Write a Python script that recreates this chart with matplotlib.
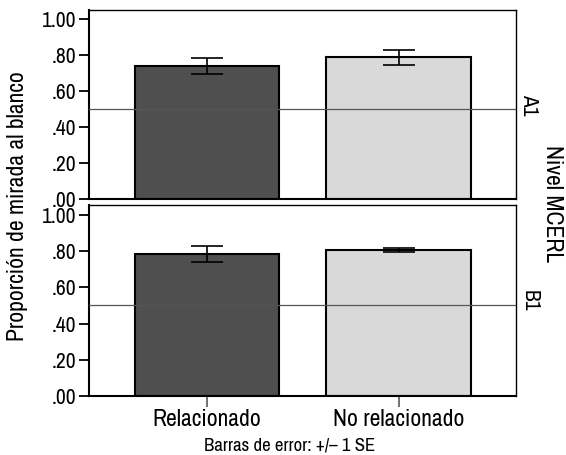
import matplotlib
matplotlib.use("Agg")
import matplotlib.pyplot as plt
from matplotlib import font_manager
import numpy as np

categories = ["Relacionado", "No relacionado"]
levels = ["A1", "B1"]
means = {"A1": [0.74, 0.787], "B1": [0.785, 0.807]}
errors = {"A1": [0.045, 0.040], "B1": [0.045, 0.010]}
bar_colors = ["#4f4f4f", "#d9d9d9"]
yticks = [0.0, 0.2, 0.4, 0.6, 0.8, 1.0]
ytick_labels = [".00", ".20", ".40", ".60", ".80", "1.00"]

installed = {f.name for f in font_manager.fontManager.ttflist}
narrow = [n for n in installed if "Narrow" in n or "Condensed" in n]
family = sorted(narrow)[0] if narrow else "Roboto"
plt.rcParams["font.family"] = [family, "DejaVu Sans"]

W, H = 566, 455
fig = plt.figure(figsize=(W / 100, H / 100), dpi=100)

panels = [(10, 199), (205, 396)]  # top / bottom pixel rows of each panel
x = np.arange(len(categories))
for i, (lvl, (top, bot)) in enumerate(zip(levels, panels)):
    ax = fig.add_axes([89 / W, 1 - bot / H, (516 - 89) / W, (bot - top) / H])
    ax.bar(x, means[lvl], width=0.755, color=bar_colors, edgecolor="black", linewidth=1.5, zorder=2)
    ax.errorbar(x, means[lvl], yerr=errors[lvl], fmt="none", ecolor="black",
                elinewidth=1.2, capsize=11.5, capthick=1.2, zorder=3)
    ax.axhline(0.5, color="#555555", linewidth=0.9, zorder=4)
    ax.set_xlim(-0.615, 1.61)
    ax.set_ylim(0, 1.0 + 0.05 * (1 + 0.1 * i))
    ax.set_yticks(yticks)
    ax.set_yticklabels(ytick_labels, fontsize=15.5)
    ax.tick_params(axis="y", length=7, width=1.3, pad=2)
    for s in ax.spines.values():
        s.set_linewidth(1.0)
    ax.spines["left"].set_linewidth(1.5)
    ax.spines["bottom"].set_linewidth(1.5)
    ax.text(1.008, 0.5, lvl, transform=ax.transAxes, rotation=-90,
            ha="left", va="center", fontsize=15.5)
    if i == 0:
        ax.set_xticks([])
    else:
        ax.set_xticks(x)
        ax.set_xticklabels(categories, fontsize=17)
        ax.tick_params(axis="x", length=8, width=1.3, color="#666666", pad=1)

fig.text(18 / W, 1 - 206 / H, "Proporción de mirada al blanco", rotation=90,
         ha="center", va="center", fontsize=17)
fig.text(552 / W, 1 - 204 / H, "Nivel MCERL", rotation=-90,
         ha="center", va="center", fontsize=17)
fig.text(290 / W, 1 - 445 / H, "Barras de error: +/– 1 SE",
         ha="center", va="center", fontsize=13.5)

fig.savefig("out.png", dpi=100)
